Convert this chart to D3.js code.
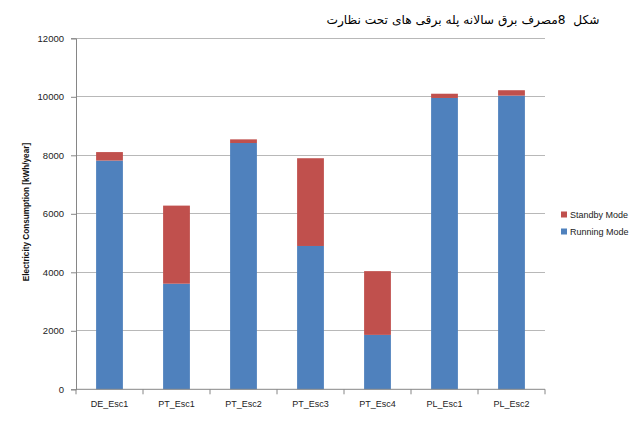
<!DOCTYPE html>
<html><head><meta charset="utf-8">
<script src="https://cdn.jsdelivr.net/npm/d3@7"></script>
<style>body{margin:0;background:#fff;} svg{display:block;}</style>
</head><body>
<script>
const categories = ["DE_Esc1","PT_Esc1","PT_Esc2","PT_Esc3","PT_Esc4","PL_Esc1","PL_Esc2"];
const running = [7820, 3610, 8420, 4900, 1860, 9960, 10040];
const standby = [290, 2670, 125, 3000, 2180, 145, 185];
const seriesNames = ["Running Mode","Standby Mode"];
const seriesColors = ["#4F81BD","#C0504D"];
const yTicks = [0,2000,4000,6000,8000,10000,12000];
const titleText = "شکل  8مصرف برق سالانه پله برقی های تحت نظارت";
const yTitle = "Electricity Consumption [kWh/year]";

(function(){
const W=641,H=425;
const svg=d3.select("body").append("svg").attr("width",W).attr("height",H);
const mLeft=76,mRight=545,mTop=38.3,mBottom=389.3;
const x=d3.scaleBand().domain(categories).range([mLeft,mRight]).paddingInner(0.6).paddingOuter(0.3);
const xb=d3.scaleBand().domain(categories).range([mLeft,mRight]);
const y=d3.scaleLinear().domain([0,12000]).range([mBottom,mTop]);

// gridlines
svg.append("g").selectAll("line").data(yTicks.filter(d=>d>0)).join("line")
  .attr("x1",mLeft).attr("x2",mRight).attr("y1",d=>y(d)).attr("y2",d=>y(d))
  .attr("stroke","#b8b8b8").attr("stroke-width",1).attr("shape-rendering","crispEdges");

// bars
const data=categories.map((c,i)=>({c,r:running[i],s:standby[i]}));
const stack=d3.stack().keys(["r","s"])(data);
svg.append("g").selectAll("g").data(stack).join("g").attr("fill",(d,i)=>seriesColors[i])
  .selectAll("rect").data(d=>d).join("rect")
  .attr("x",d=>x(d.data.c)).attr("width",x.bandwidth())
  .attr("y",d=>y(d[1])).attr("height",d=>y(d[0])-y(d[1]));

// y axis
const ya=svg.append("g").attr("transform",`translate(${mLeft},0)`)
  .call(d3.axisLeft(y).tickValues(yTicks).tickSize(5).tickPadding(7).tickFormat(d3.format("d")));
ya.select(".domain").attr("stroke","#868686");
ya.selectAll(".tick line").attr("stroke","#868686");
ya.selectAll("text").attr("font-family","Liberation Sans, Arial").attr("font-size","9.5px").attr("fill","#222");

// x axis
const xa=svg.append("g").attr("transform",`translate(0,${mBottom})`)
  .call(d3.axisBottom(x).tickSize(0).tickPadding(11));
xa.select(".domain").attr("stroke","#868686").attr("d",`M${mLeft},0H${mRight}`);
xa.selectAll("text").attr("font-family","Liberation Sans, Arial").attr("font-size","9px").attr("fill","#222");
svg.append("g").selectAll("line").data(categories.map(c=>xb(c)).concat([mRight])).join("line")
  .attr("x1",d=>d).attr("x2",d=>d).attr("y1",mBottom).attr("y2",mBottom+5)
  .attr("stroke","#868686");

// y title
svg.append("text").attr("transform",`translate(29,${(140+284)/2}) rotate(-90)`)
  .attr("text-anchor","middle").attr("font-family","Liberation Sans, Arial").attr("font-weight","bold")
  .attr("font-size","8.2px").attr("fill","#111").text(yTitle);

// title
svg.append("text").attr("x",463).attr("y",24).attr("text-anchor","middle")
  .attr("direction","rtl").style("white-space","pre").attr("font-family","DejaVu Sans").attr("font-size","12.2px").attr("fill","#000")
  .text(titleText);

// legend
const leg=[{n:seriesNames[1],c:seriesColors[1]},{n:seriesNames[0],c:seriesColors[0]}];
const lg=svg.append("g").selectAll("g").data(leg).join("g")
  .attr("transform",(d,i)=>`translate(561,${215+i*17})`);
lg.append("rect").attr("x",0).attr("y",-3.5).attr("width",6).attr("height",6).attr("fill",d=>d.c);
lg.append("text").attr("x",9).attr("y",3).attr("font-family","Liberation Sans, Arial").attr("font-size","9px")
  .attr("fill","#222").text(d=>d.n);
})();
</script>
</body></html>
